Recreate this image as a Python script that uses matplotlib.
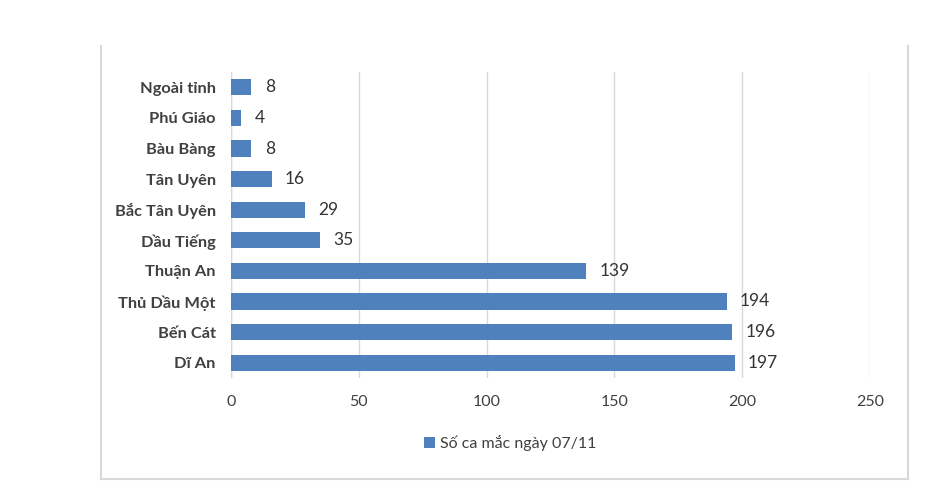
import matplotlib
matplotlib.use("Agg")
import matplotlib.pyplot as plt
from matplotlib.lines import Line2D
from matplotlib.patches import Patch

categories = ["Ngoài tỉnh", "Phú Giáo", "Bàu Bàng", "Tân Uyên", "Bắc Tân Uyên",
              "Dầu Tiếng", "Thuận An", "Thủ Dầu Một", "Bến Cát", "Dĩ An"]
values = [8, 4, 8, 16, 29, 35, 139, 194, 196, 197]
xticks = [0, 50, 100, 150, 200, 250]
series_name = "Số ca mắc ngày 07/11"

plt.rcParams['font.family'] = ['Lato', 'DejaVu Sans']
text_color = "#404040"
bar_color = "#4F81BD"
grid_color = "#D9D9D9"

fig = plt.figure(figsize=(9.52, 4.94), dpi=100)
ax = fig.add_axes([231/952, 1-378/494, (870-231)/952, (378-72)/494])

ypos = list(range(len(categories)))
ax.barh(ypos, values, height=0.53, color=bar_color, zorder=3)
ax.set_ylim(len(categories)-0.5, -0.5)
ax.set_xlim(0, 250)
ax.set_xticks(xticks)
ax.set_xticklabels([str(t) for t in xticks], fontsize=11.5, color=text_color)
ax.set_yticks(ypos)
ax.set_yticklabels(categories, fontsize=11.8, color=text_color, fontweight='bold')
ax.tick_params(axis='both', length=0)
ax.tick_params(axis='x', pad=12)
ax.tick_params(axis='y', pad=11)
ax.grid(axis='x', color=grid_color, linewidth=1, zorder=0)
for s in ax.spines.values():
    s.set_visible(False)
ax.axvline(0, color=grid_color, linewidth=1, zorder=1)

for y, v in zip(ypos, values):
    ax.annotate(str(v), xy=(v, y), xytext=(9.5, 0), textcoords='offset points',
                va='center', ha='left', fontsize=12.5, color="#333333")

fig.legend(handles=[Patch(facecolor=bar_color)], labels=[series_name],
           loc='center', bbox_to_anchor=(510/952, 1-443/494), frameon=False,
           fontsize=11.5, handlelength=0.7, handleheight=0.7, handletextpad=0.3,
           labelcolor=text_color)

# outer chart border (left, right, bottom)
bc = "#D9D9D9"
x0, x1 = 101/952, 908/952
yt, yb = 1-46/494, 1-479/494
fig.add_artist(Line2D([x0, x0], [yt, yb], color=bc, linewidth=1.5, transform=fig.transFigure))
fig.add_artist(Line2D([x1, x1], [yt, yb], color=bc, linewidth=1.5, transform=fig.transFigure))
fig.add_artist(Line2D([x0, x1], [yb, yb], color=bc, linewidth=1.5, transform=fig.transFigure))

fig.savefig("out.png", dpi=100)
